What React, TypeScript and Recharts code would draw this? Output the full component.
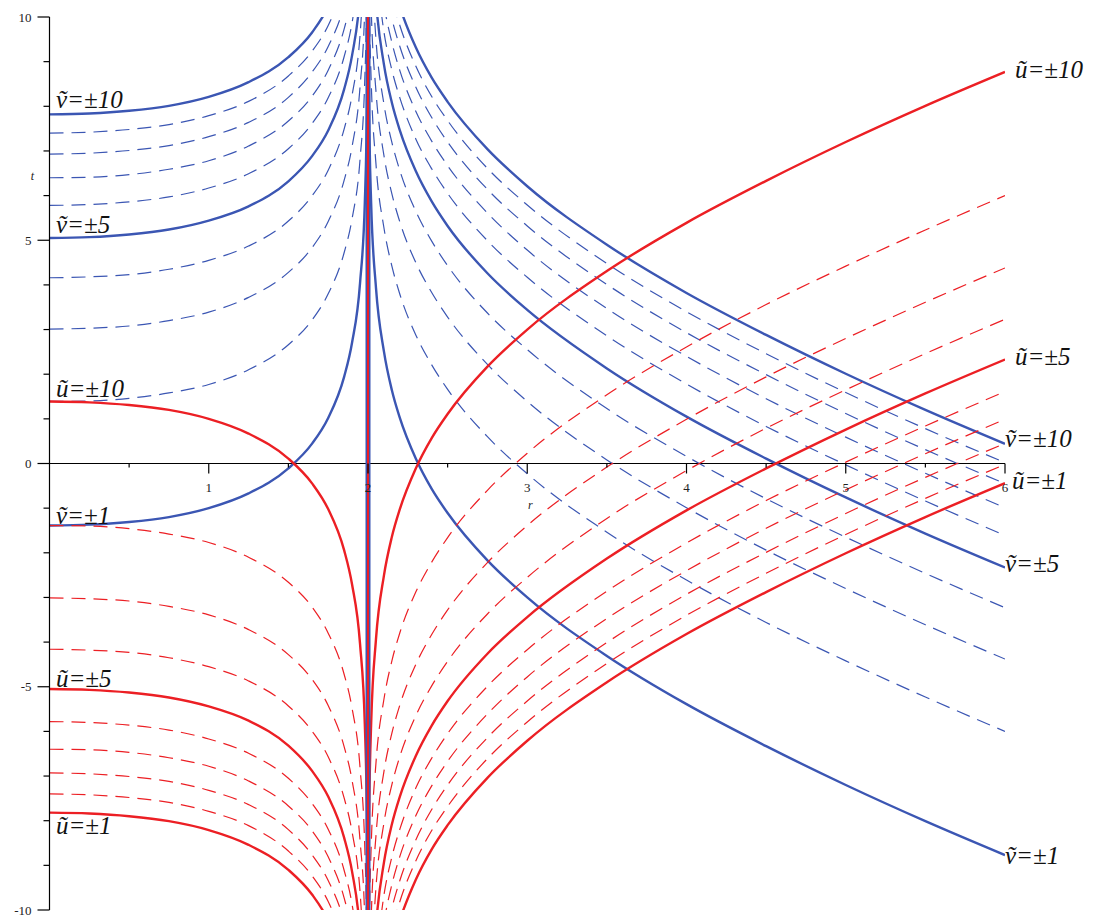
import { LineChart, Line, XAxis, YAxis, ReferenceLine, ReferenceDot } from "recharts";

const BLUE = "#3b56b3";
const RED = "#ec1f24";
const SERIF = "Liberation Serif, Times New Roman, serif";

// r samples inside the horizon (r < 2) and outside it (r > 2)
const rInner = [0, 0.25, 0.5, 0.75, 1, 1.25, 1.5, 1.65, 1.75, 1.85, 1.9, 1.95, 1.98, 1.99, 1.995, 1.998, 1.999, 1.9995];
const rOuter = [2.0005, 2.001, 2.002, 2.005, 2.01, 2.02, 2.05, 2.1, 2.15, 2.2, 2.3, 2.4, 2.5, 2.75, 3, 3.5, 4, 4.5, 5, 5.5, 6];

// blue family, r < 2: t along rInner (from r = 0), one row per level
const vInner: number[][] = [
  [-1.39, -1.37, -1.31, -1.2, -1.0, -0.67, -0.11, 0.45, 1.02, 1.94, 2.71, 4.04, 5.84, 7.22, 8.6, 10.43, 11.82],
  [1.39, 1.4, 1.46, 1.58, 1.77, 2.1, 2.66, 3.22, 3.8, 4.72, 5.48, 6.81, 8.62, 9.99, 11.37],
  [3.01, 3.03, 3.08, 3.2, 3.39, 3.72, 4.28, 4.84, 5.42, 6.34, 7.1, 8.44, 10.24, 11.61],
  [4.16, 4.18, 4.23, 4.35, 4.55, 4.87, 5.43, 6.0, 6.57, 7.49, 8.25, 9.59, 11.39],
  [5.05, 5.07, 5.13, 5.24, 5.44, 5.76, 6.32, 6.89, 7.46, 8.38, 9.14, 10.48, 12.28],
  [5.78, 5.8, 5.86, 5.97, 6.17, 6.49, 7.05, 7.62, 8.19, 9.11, 9.87, 11.21],
  [6.4, 6.41, 6.47, 6.59, 6.78, 7.11, 7.67, 8.23, 8.81, 9.73, 10.49, 11.83],
  [6.93, 6.95, 7.01, 7.12, 7.32, 7.64, 8.2, 8.77, 9.34, 10.26, 11.02],
  [7.4, 7.42, 7.48, 7.59, 7.79, 8.11, 8.68, 9.24, 9.81, 10.73, 11.49],
  [7.82, 7.84, 7.9, 8.01, 8.21, 8.54, 9.1, 9.66, 10.23, 11.15],
];

// blue family, r > 2: t along the tail of rOuter (ending at r = 6)
const vOuter: number[][] = [
  [11.81, 10.43, 8.59, 7.2, 5.8, 3.94, 2.51, 1.64, 1.02, 0.11, -0.57, -1.11, -2.17, -3.0, -4.31, -5.39, -6.33, -7.2, -8.01, -8.77],
  [11.36, 9.97, 8.58, 6.71, 5.28, 4.42, 3.79, 2.88, 2.21, 1.66, 0.6, -0.23, -1.54, -2.61, -3.56, -4.42, -5.23, -6.0],
  [11.59, 10.2, 8.34, 6.9, 6.04, 5.41, 4.5, 3.83, 3.28, 2.22, 1.39, 0.08, -0.99, -1.94, -2.8, -3.61, -4.38],
  [11.35, 9.49, 8.05, 7.19, 6.56, 5.65, 4.98, 4.43, 3.37, 2.55, 1.23, 0.16, -0.79, -1.65, -2.46, -3.23],
  [12.24, 10.38, 8.94, 8.08, 7.46, 6.55, 5.87, 5.32, 4.26, 3.44, 2.13, 1.05, 0.11, -0.76, -1.57, -2.33],
  [11.11, 9.67, 8.81, 8.19, 7.27, 6.6, 6.05, 4.99, 4.17, 2.86, 1.78, 0.83, -0.03, -0.84, -1.61],
  [11.73, 10.29, 9.43, 8.8, 7.89, 7.22, 6.67, 5.61, 4.78, 3.47, 2.4, 1.45, 0.59, -0.22, -0.99],
  [12.26, 10.82, 9.96, 9.34, 8.43, 7.75, 7.2, 6.14, 5.32, 4.01, 2.93, 1.99, 1.12, 0.31, -0.45],
  [12.73, 11.29, 10.43, 9.81, 8.9, 8.22, 7.68, 6.61, 5.79, 4.48, 3.4, 2.46, 1.59, 0.78, 0.02],
  [11.72, 10.85, 10.23, 9.32, 8.64, 8.1, 7.04, 6.21, 4.9, 3.82, 2.88, 2.01, 1.2, 0.44],
];

// red family, r < 2
const uInner: number[][] = [
  [1.39, 1.37, 1.31, 1.2, 1.0, 0.67, 0.11, -0.45, -1.02, -1.94, -2.71, -4.04, -5.84, -7.22, -8.6, -10.43, -11.82],
  [-1.39, -1.4, -1.46, -1.58, -1.77, -2.1, -2.66, -3.22, -3.8, -4.72, -5.48, -6.81, -8.62, -9.99, -11.37],
  [-3.01, -3.03, -3.08, -3.2, -3.39, -3.72, -4.28, -4.84, -5.42, -6.34, -7.1, -8.44, -10.24, -11.61],
  [-4.16, -4.18, -4.23, -4.35, -4.55, -4.87, -5.43, -6.0, -6.57, -7.49, -8.25, -9.59, -11.39],
  [-5.05, -5.07, -5.13, -5.24, -5.44, -5.76, -6.32, -6.89, -7.46, -8.38, -9.14, -10.48, -12.28],
  [-5.78, -5.8, -5.86, -5.97, -6.17, -6.49, -7.05, -7.62, -8.19, -9.11, -9.87, -11.21],
  [-6.4, -6.41, -6.47, -6.59, -6.78, -7.11, -7.67, -8.23, -8.81, -9.73, -10.49, -11.83],
  [-6.93, -6.95, -7.01, -7.12, -7.32, -7.64, -8.2, -8.77, -9.34, -10.26, -11.02],
  [-7.4, -7.42, -7.48, -7.59, -7.79, -8.11, -8.68, -9.24, -9.81, -10.73, -11.49],
  [-7.82, -7.84, -7.9, -8.01, -8.21, -8.54, -9.1, -9.66, -10.23, -11.15],
];

// red family, r > 2
const uOuter: number[][] = [
  [-11.81, -10.43, -8.59, -7.2, -5.8, -3.94, -2.51, -1.64, -1.02, -0.11, 0.57, 1.11, 2.17, 3.0, 4.31, 5.39, 6.33, 7.2, 8.01, 8.77],
  [-11.36, -9.97, -8.58, -6.71, -5.28, -4.42, -3.79, -2.88, -2.21, -1.66, -0.6, 0.23, 1.54, 2.61, 3.56, 4.42, 5.23, 6.0],
  [-11.59, -10.2, -8.34, -6.9, -6.04, -5.41, -4.5, -3.83, -3.28, -2.22, -1.39, -0.08, 0.99, 1.94, 2.8, 3.61, 4.38],
  [-11.35, -9.49, -8.05, -7.19, -6.56, -5.65, -4.98, -4.43, -3.37, -2.55, -1.23, -0.16, 0.79, 1.65, 2.46, 3.23],
  [-12.24, -10.38, -8.94, -8.08, -7.46, -6.55, -5.87, -5.32, -4.26, -3.44, -2.13, -1.05, -0.11, 0.76, 1.57, 2.33],
  [-11.11, -9.67, -8.81, -8.19, -7.27, -6.6, -6.05, -4.99, -4.17, -2.86, -1.78, -0.83, 0.03, 0.84, 1.61],
  [-11.73, -10.29, -9.43, -8.8, -7.89, -7.22, -6.67, -5.61, -4.78, -3.47, -2.4, -1.45, -0.59, 0.22, 0.99],
  [-12.26, -10.82, -9.96, -9.34, -8.43, -7.75, -7.2, -6.14, -5.32, -4.01, -2.93, -1.99, -1.12, -0.31, 0.45],
  [-12.73, -11.29, -10.43, -9.81, -8.9, -8.22, -7.68, -6.61, -5.79, -4.48, -3.4, -2.46, -1.59, -0.78, -0.02],
  [-11.72, -10.85, -10.23, -9.32, -8.64, -8.1, -7.04, -6.21, -4.9, -3.82, -2.88, -2.01, -1.2, -0.44],
];

// rows drawn solid, the others dashed
const solidRows = [0, 4, 9];

const yTicks = [-10, -9, -8, -7, -6, -5, -4, -3, -2, -1, 0, 1, 2, 3, 4, 5, 6, 7, 8, 9, 10];
const xTicks = [0.5, 1, 1.5, 2, 2.5, 3, 3.5, 4, 4.5, 5, 5.5, 6];

const leftLabels = [
  { text: "ṽ=±10", t: 7.96 },
  { text: "ṽ=±5", t: 5.17 },
  { text: "ũ=±10", t: 1.48 },
  { text: "ṽ=±1", t: -1.36 },
  { text: "ũ=±5", t: -5.0 },
  { text: "ũ=±1", t: -8.3 },
];

const rightLabels = [
  { text: "ũ=±10", t: 8.64, dx: 10 },
  { text: "ũ=±5", t: 2.21, dx: 10 },
  { text: "ṽ=±10", t: 0.38, dx: 0 },
  { text: "ũ=±1", t: -0.58, dx: 7 },
  { text: "ṽ=±5", t: -2.42, dx: 0 },
  { text: "ṽ=±1", t: -8.96, dx: 0 },
];

type Pt = { r: number; t: number };

const fromStart = (rs: number[], ts: number[]): Pt[] => ts.map((t, i) => ({ r: rs[i], t }));
const fromEnd = (rs: number[], ts: number[]): Pt[] => {
  const off = rs.length - ts.length;
  return ts.map((t, i) => ({ r: rs[off + i], t }));
};

interface Curve {
  id: string;
  color: string;
  solid: boolean;
  data: Pt[];
}

function family(prefix: string, color: string, inner: number[][], outer: number[][]): Curve[] {
  const out: Curve[] = [];
  inner.forEach((ts, k) =>
    out.push({ id: `${prefix}-in-${k}`, color, solid: solidRows.includes(k), data: fromStart(rInner, ts) })
  );
  outer.forEach((ts, k) =>
    out.push({ id: `${prefix}-out-${k}`, color, solid: solidRows.includes(k), data: fromEnd(rOuter, ts) })
  );
  // dashed first so the solid levels sit on top
  return [...out.filter((c) => !c.solid), ...out.filter((c) => c.solid)];
}

const curves = [...family("v", BLUE, vInner, vOuter), ...family("u", RED, uInner, uOuter)];

function YTick(props: any) {
  const { x, y, payload } = props;
  const major = payload.value % 5 === 0;
  const len = major ? 12 : 6;
  return (
    <g>
      <line x1={x - len} y1={y} x2={x} y2={y} stroke="#000" strokeWidth={1.2} />
      {major && (
        <text x={x - len - 6} y={y + 4.5} textAnchor="end" fontSize={13} fontFamily={SERIF} fill="#222">
          {payload.value}
        </text>
      )}
    </g>
  );
}

const labelStyle = {
  fontSize: 25,
  fontStyle: "italic" as const,
  fontFamily: SERIF,
  fill: "#111",
};

export default function App() {
  return (
    <LineChart width={1088} height={913} margin={{ top: 9, right: 91, bottom: 11, left: 0 }}>
      <XAxis dataKey="r" type="number" domain={[0, 6]} allowDataOverflow hide />
      <YAxis
        type="number"
        domain={[-10, 10]}
        allowDataOverflow
        ticks={yTicks}
        interval={0}
        width={41.5}
        tickSize={0}
        tickMargin={0}
        tickLine={false}
        axisLine={{ stroke: "#000", strokeWidth: 1.2 }}
        tick={(p: any) => <YTick {...p} />}
      />
      <ReferenceLine y={0} stroke="#000" strokeWidth={1.2} />
      {curves.map((c) => (
        <Line
          key={c.id}
          data={c.data}
          dataKey="t"
          type="monotone"
          stroke={c.color}
          strokeWidth={c.solid ? 2.4 : 1.2}
          strokeDasharray={c.solid ? undefined : "14 8"}
          dot={false}
          activeDot={false}
          isAnimationActive={false}
        />
      ))}
      <ReferenceLine x={2} stroke={BLUE} strokeWidth={5} />
      <ReferenceLine x={2} stroke={RED} strokeWidth={2} />
      {xTicks.map((r) => (
        <ReferenceDot
          key={`xt-${r}`}
          x={r}
          y={0}
          r={0}
          shape={(p: any) => {
            const major = Number.isInteger(r);
            return (
              <g>
                <line x1={p.cx} y1={p.cy} x2={p.cx} y2={p.cy + (major ? 10 : 4)} stroke="#000" strokeWidth={1.2} />
                {major && (
                  <text x={p.cx} y={p.cy + 28} textAnchor="middle" fontSize={13} fontFamily={SERIF} fill="#222">
                    {r}
                  </text>
                )}
              </g>
            );
          }}
        />
      ))}
      <ReferenceDot
        x={0}
        y={6.35}
        r={0}
        shape={(p: any) => (
          <text x={p.cx - 17} y={p.cy} textAnchor="middle" fontSize={12} fontStyle="italic" fontFamily={SERIF} fill="#222">
            t
          </text>
        )}
      />
      <ReferenceDot
        x={3.02}
        y={-1.03}
        r={0}
        shape={(p: any) => (
          <text x={p.cx} y={p.cy} textAnchor="middle" fontSize={12} fontStyle="italic" fontFamily={SERIF} fill="#222">
            r
          </text>
        )}
      />
      {leftLabels.map((l) => (
        <ReferenceDot
          key={`ll-${l.text}`}
          x={0}
          y={l.t}
          r={0}
          shape={(p: any) => (
            <text x={p.cx + 6.5} y={p.cy} {...labelStyle}>
              {l.text}
            </text>
          )}
        />
      ))}
      {rightLabels.map((l) => (
        <ReferenceDot
          key={`rl-${l.text}`}
          x={6}
          y={l.t}
          r={0}
          shape={(p: any) => (
            <text x={p.cx + l.dx} y={p.cy} {...labelStyle}>
              {l.text}
            </text>
          )}
        />
      ))}
    </LineChart>
  );
}
